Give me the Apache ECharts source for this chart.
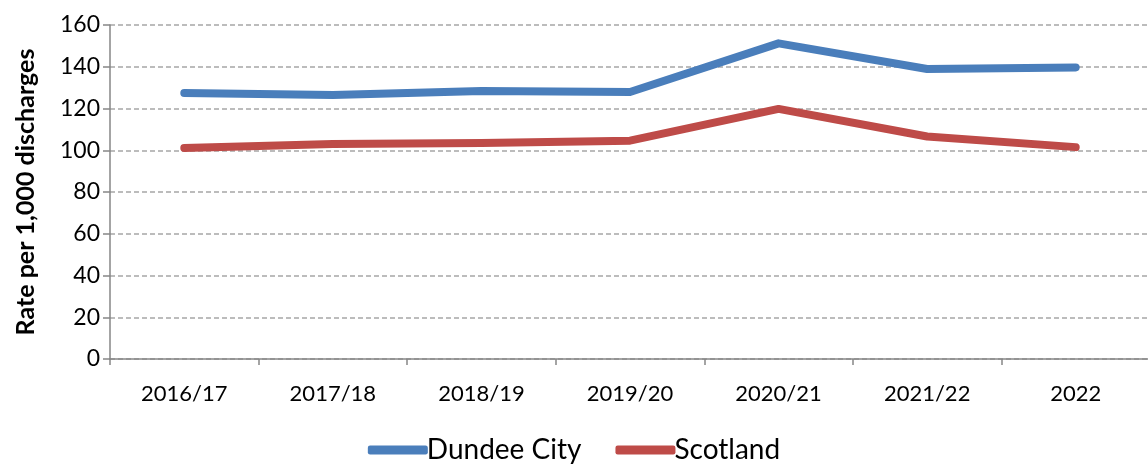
<!DOCTYPE html>
<html><head><meta charset="utf-8">
<script src="https://cdn.jsdelivr.net/npm/echarts@6/dist/echarts.min.js"></script>
<style>html,body{margin:0;padding:0;background:#fff}#c{width:1148px;height:465px}</style>
</head><body><div id="c"></div>
<script>
const categories = ['2016/17','2017/18','2018/19','2019/20','2020/21','2021/22','2022'];
const dundee = [127.4, 126.5, 128.4, 127.9, 151.2, 138.9, 139.7];
const scotland = [101.1, 103.0, 103.5, 104.6, 119.8, 106.6, 101.5];
const yTicks = [0,20,40,60,80,100,120,140,160];
const FONT = 'Lato, "Open Sans", sans-serif';
const chart = echarts.init(document.getElementById('c'));
chart.setOption({
  animation:false,
  textStyle:{fontFamily:FONT},
  grid:{left:110,right:-2,top:25,bottom:106,containLabel:false,outerBoundsMode:'none'},
  legend:{
    bottom:-4,left:'center',itemWidth:60,itemHeight:9,itemGap:34,
    icon:'roundRect',
    textStyle:{fontSize:28,color:'#000',fontFamily:FONT,padding:[0,0,0,-6]},
    data:['Dundee City','Scotland']
  },
  xAxis:{
    type:'category',data:categories,boundaryGap:true,
    axisLine:{lineStyle:{color:'#868686',width:1.5}},
    axisTick:{show:true,length:6,lineStyle:{color:'#868686',width:1.5}},
    axisLabel:{color:'#000',fontSize:22,margin:24,fontFamily:FONT}
  },
  yAxis:{
    type:'value',min:yTicks[0],max:yTicks[yTicks.length-1],interval:20,
    name:'Rate per 1,000 discharges',nameLocation:'middle',nameGap:72,
    nameTextStyle:{fontSize:25,fontWeight:'bold',color:'#000',fontFamily:FONT},
    axisLine:{show:true,lineStyle:{color:'#868686',width:1.5}},
    axisTick:{show:true,length:7,lineStyle:{color:'#868686',width:1.5}},
    axisLabel:{color:'#000',fontSize:23,margin:10,fontFamily:FONT},
    splitLine:{lineStyle:{color:'#a6a6a6',type:[5,3],width:1.5}}
  },
  series:[
    {name:'Dundee City',type:'line',data:dundee,symbol:'none',color:'#4A7EBB',
     lineStyle:{width:8,color:'#4A7EBB',cap:'round',join:'round'}},
    {name:'Scotland',type:'line',data:scotland,symbol:'none',color:'#BE4B48',
     lineStyle:{width:8,color:'#BE4B48',cap:'round',join:'round'}}
  ]
});
</script></body></html>
